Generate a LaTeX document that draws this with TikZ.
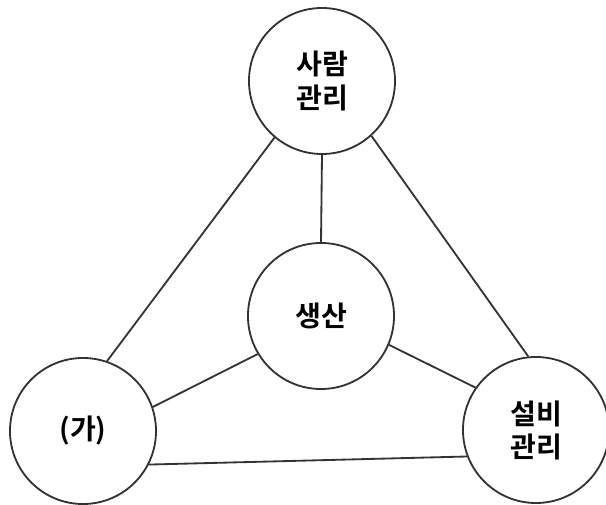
\documentclass[tikz,border=0pt]{standalone}
\usepackage{fontspec}
\newfontfamily\kr{Noto Sans CJK KR Bold}
\usetikzlibrary{positioning}

\begin{document}
\begin{tikzpicture}[x=0.025cm, y=-0.025cm,
      bub/.style={draw=black!80, line width=1.3pt, circle, minimum size=3.65cm, inner sep=0pt, align=center, font=\kr\fontsize{20}{23.5}\selectfont},
      lnk/.style={draw=black!80, line width=1.3pt}]
    \useasboundingbox (0,0) rectangle (606,505);
    \node[bub] (people) at (322,81) {사람\\관리};
    \node[bub] (prod) at (321,316) {\raisebox{-4pt}{생산}};
    \node[bub] (ga) at (83,431) {(가)};
    \node[bub] (equip) at (536,430) {설비\\관리};
    \draw[lnk] (people.-130) -- (ga.71);
    \draw[lnk] (people.-48) -- (equip.96);
    \draw[lnk] (people.south) -- (prod.north);
    \draw[lnk] (prod.211) -- (ga.19);
    \draw[lnk] (prod.-23) -- (equip.145);
    \draw[lnk] (ga.-27) -- (equip.-159);
  \end{tikzpicture}
\end{document}
